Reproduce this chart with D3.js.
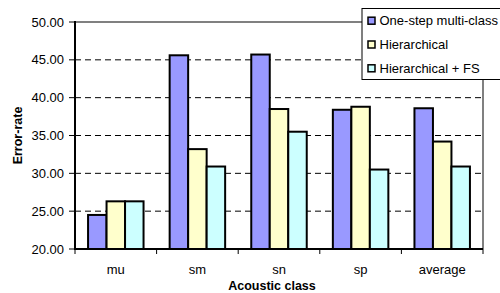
<!DOCTYPE html>
<html>
<head>
<meta charset="utf-8">
<script src="https://cdn.jsdelivr.net/npm/d3@7"></script>
<style>
  body { margin: 0; background: #fff; }
  svg { display: block; font-family: "Liberation Sans", Arial, sans-serif; }
</style>
</head>
<body>
<div id="chart"></div>
<script>
const categories = ['mu', 'sm', 'sn', 'sp', 'average'];
const seriesNames = ['One-step multi-class', 'Hierarchical', 'Hierarchical + FS'];
const oneStep = [24.5, 45.6, 45.7, 38.4, 38.6];
const hierarchical = [26.3, 33.2, 38.5, 38.8, 34.2];
const hierarchicalFS = [26.3, 30.9, 35.5, 30.5, 30.9];
const yTicks = [20, 25, 30, 35, 40, 45, 50];
const colors = ['#9999FF', '#FFFFCC', '#CCFFFF'];

const series = [oneStep, hierarchical, hierarchicalFS];
const W = 500, H = 293;
const plotLeft = 75, plotRight = 483, plotTop = 22, plotBottom = 249;

const svg = d3.select('#chart').append('svg')
    .attr('width', W).attr('height', H);

const x = d3.scaleBand().domain(categories).range([plotLeft, plotRight]);
const bw = x.bandwidth();
const gap = bw * 0.16;
const x1 = d3.scaleBand().domain(d3.range(series.length)).range([gap, bw - gap]);
const y = d3.scaleLinear().domain([20, 50]).range([plotBottom, plotTop]);

// plot border (gray top / right)
svg.append('path')
    .attr('d', `M${plotLeft},${plotTop}H${plotRight}V${plotBottom}`)
    .attr('fill', 'none').attr('stroke', '#808080').attr('stroke-width', 2);

// dashed grid lines
svg.append('g').selectAll('line')
    .data(yTicks.filter(t => t > 20 && t < 50))
    .enter().append('line')
    .attr('x1', plotLeft).attr('x2', plotRight)
    .attr('y1', d => y(d)).attr('y2', d => y(d))
    .attr('stroke', '#000').attr('stroke-width', 1)
    .attr('stroke-dasharray', '6,4');

// bars
const groups = svg.append('g').selectAll('g')
    .data(categories)
    .enter().append('g')
    .attr('transform', d => `translate(${x(d)},0)`);

groups.selectAll('rect')
    .data((c, ci) => series.map((s, si) => ({ si, v: s[ci] })))
    .enter().append('rect')
    .attr('x', d => x1(d.si))
    .attr('width', x1.bandwidth())
    .attr('y', d => y(d.v))
    .attr('height', d => y(20) - y(d.v))
    .attr('fill', d => colors[d.si])
    .attr('stroke', '#000').attr('stroke-width', 2);

// y axis
const yAxis = svg.append('g');
yAxis.append('line')
    .attr('x1', plotLeft).attr('x2', plotLeft).attr('y1', plotTop - 1).attr('y2', plotBottom + 1)
    .attr('stroke', '#000').attr('stroke-width', 2);
yAxis.selectAll('.tick')
    .data(yTicks)
    .enter().append('line')
    .attr('x1', plotLeft - 6).attr('x2', plotLeft)
    .attr('y1', d => y(d)).attr('y2', d => y(d))
    .attr('stroke', '#000').attr('stroke-width', 1);
yAxis.selectAll('text')
    .data(yTicks)
    .enter().append('text')
    .attr('x', plotLeft - 11).attr('y', d => y(d))
    .attr('dy', '0.35em')
    .attr('text-anchor', 'end')
    .attr('font-size', 13)
    .text(d => d.toFixed(2));

// x axis
const xAxis = svg.append('g');
xAxis.append('line')
    .attr('x1', plotLeft - 1).attr('x2', plotRight).attr('y1', plotBottom).attr('y2', plotBottom)
    .attr('stroke', '#000').attr('stroke-width', 2);
xAxis.selectAll('.tick')
    .data(categories.map(c => x(c)).concat([plotRight]))
    .enter().append('line')
    .attr('x1', d => d).attr('x2', d => d)
    .attr('y1', plotBottom).attr('y2', plotBottom + 5)
    .attr('stroke', '#000').attr('stroke-width', 1);
xAxis.selectAll('text')
    .data(categories)
    .enter().append('text')
    .attr('x', d => x(d) + bw / 2).attr('y', 273.5)
    .attr('text-anchor', 'middle')
    .attr('font-size', 13)
    .text(d => d);

// axis titles
svg.append('text')
    .attr('x', 272).attr('y', 290)
    .attr('text-anchor', 'middle')
    .attr('font-size', 12.5).attr('font-weight', 'bold')
    .text('Acoustic class');
svg.append('text')
    .attr('transform', `translate(22,${(plotTop + plotBottom) / 2}) rotate(-90)`)
    .attr('text-anchor', 'middle')
    .attr('font-size', 12.5).attr('font-weight', 'bold')
    .text('Error-rate');

// legend
const legend = svg.append('g');
legend.append('rect')
    .attr('x', 362).attr('y', 8.5).attr('width', 150).attr('height', 71)
    .attr('fill', '#fff').attr('stroke', '#000').attr('stroke-width', 1);
const items = legend.selectAll('g')
    .data(seriesNames)
    .enter().append('g')
    .attr('transform', (d, i) => `translate(368,${[20.7, 44.5, 68.3][i]})`);
items.append('rect')
    .attr('x', 0).attr('y', -3.5).attr('width', 7).attr('height', 7)
    .attr('fill', (d, i) => colors[i])
    .attr('stroke', '#000').attr('stroke-width', 1.5);
items.append('text')
    .attr('x', 11.5).attr('dy', '0.35em')
    .attr('font-size', 13)
    .text(d => d);
</script>
</body>
</html>
